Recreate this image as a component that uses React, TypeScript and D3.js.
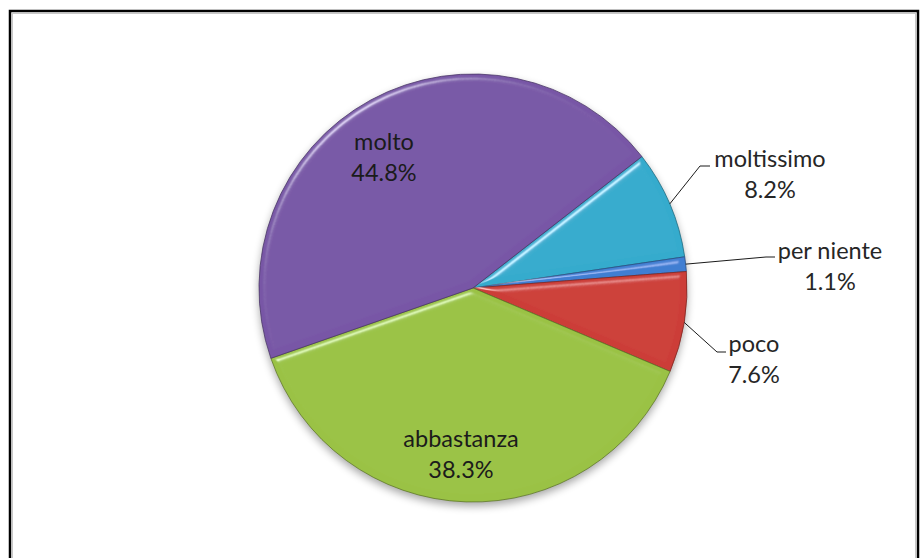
import React from "react";
import * as d3 from "d3";

const categories = ["moltissimo", "per niente", "poco", "abbastanza", "molto"];
const values = [8.2, 1.1, 7.6, 38.3, 44.8];
const valueLabels = ["8.2%", "1.1%", "7.6%", "38.3%", "44.8%"];
const colors = ["#35ABCD", "#3F7ED2", "#CC3E38", "#9AC244", "#7857A6"];

// layout (not data)
const W = 924;
const H = 558;
const cx = 473;
const cy = 288;
const R = 214;
const startDeg = 52.1;
const labelLayout = [
  { x: 770, y: 167, elbow: [700, 166], end: [710, 166], outside: true },
  { x: 830, y: 259, elbow: [766, 257], end: [775, 257], outside: true },
  { x: 754, y: 352, elbow: [717, 352], end: [726, 352], outside: true },
  { x: 461, y: 447, outside: false },
  { x: 384, y: 150, outside: false },
];
const lineGap = 31;

export default function App() {
  const start = (startDeg * Math.PI) / 180;
  const pie = d3
    .pie<number>()
    .sort(null)
    .value((d) => d)
    .startAngle(start)
    .endAngle(start + 2 * Math.PI);
  const arcs = pie(values);
  const arc = d3.arc<d3.PieArcDatum<number>>().innerRadius(0).outerRadius(R);
  const font = "Lato, 'Open Sans', sans-serif";

  return (
    <svg
      width={W}
      height={H}
      style={{ position: "absolute", left: 0, top: 0, background: "#fff" }}
    >
      <defs>
        <filter id="bevel" x="-5%" y="-5%" width="110%" height="110%">
          <feGaussianBlur in="SourceAlpha" stdDeviation="3" result="blur" />
          <feSpecularLighting
            in="blur"
            surfaceScale="4"
            specularConstant="0.7"
            specularExponent="55"
            lightingColor="#ffffff"
            result="spec"
          >
            <feDistantLight azimuth="235" elevation="45" />
          </feSpecularLighting>
          <feComposite in="spec" in2="SourceAlpha" operator="in" result="specIn" />
          <feComposite
            in="SourceGraphic"
            in2="specIn"
            operator="arithmetic"
            k1="0"
            k2="1"
            k3="0.7"
            k4="0"
          />
        </filter>
        <filter id="shadow" x="-20%" y="-20%" width="140%" height="140%">
          <feGaussianBlur stdDeviation="4" />
        </filter>
      </defs>

      <rect x={10} y={11} width={908} height={570} fill="#fff" stroke="#000" strokeWidth={2.5} />
      <rect x={12.5} y={13.5} width={903} height={570} fill="none" stroke="#c8c8c8" strokeWidth={1} />

      <circle cx={cx} cy={cy + 4} r={R} fill="#000" opacity={0.35} filter="url(#shadow)" />

      <g transform={`translate(${cx},${cy})`}>
        {arcs.map((a, i) => (
          <path
            key={categories[i]}
            d={arc(a) || ""}
            fill={colors[i]}
            stroke={d3.color(colors[i])!.darker(1.3).formatHex()}
            strokeWidth={0.8}
            filter="url(#bevel)"
          />
        ))}
      </g>

      {arcs.map((a, i) => {
        const L = labelLayout[i];
        if (!L.outside) return null;
        const mid = (a.startAngle + a.endAngle) / 2;
        const sx = cx + R * Math.sin(mid);
        const sy = cy - R * Math.cos(mid);
        const pts = [
          [sx, sy],
          L.elbow as number[],
          L.end as number[],
        ];
        return (
          <path
            key={"l" + i}
            d={d3.line()(pts as [number, number][]) || ""}
            fill="none"
            stroke="#1a1a1a"
            strokeWidth={1}
          />
        );
      })}

      {arcs.map((a, i) => {
        const L = labelLayout[i];
        return (
          <text
            key={"t" + i}
            x={L.x}
            y={L.y}
            textAnchor="middle"
            fontFamily={font}
            fontSize={23.5}
            fill={L.outside ? "#262626" : "#1b1b1b"}
          >
            <tspan x={L.x} y={L.y}>
              {categories[i]}
            </tspan>
            <tspan x={L.x} y={L.y + lineGap}>
              {valueLabels[i]}
            </tspan>
          </text>
        );
      })}
    </svg>
  );
}
